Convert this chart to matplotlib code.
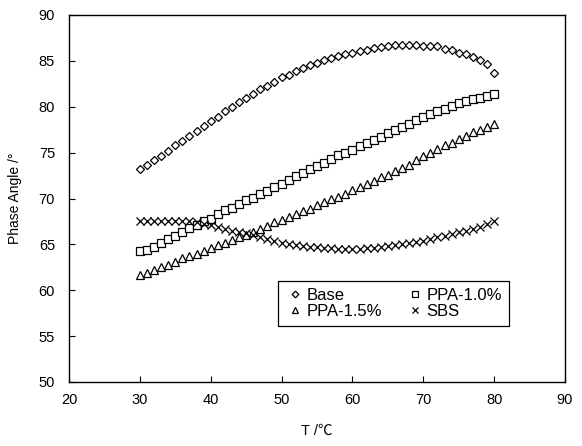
import matplotlib
matplotlib.use("Agg")
import matplotlib.pyplot as plt

plt.rcParams['font.family'] = ['Liberation Sans', 'DejaVu Sans']

temps = list(range(30, 81))

base = [73.2, 73.7, 74.2, 74.6, 75.2, 75.8, 76.3, 76.8, 77.4, 77.9,
        78.4, 78.9, 79.5, 80.0, 80.5, 80.9, 81.4, 81.9, 82.3, 82.7,
        83.2, 83.5, 83.9, 84.2, 84.5, 84.8, 85.1, 85.3, 85.5, 85.7,
        85.9, 86.1, 86.2, 86.4, 86.5, 86.6, 86.7, 86.7, 86.7, 86.7,
        86.6, 86.6, 86.6, 86.3, 86.2, 85.9, 85.7, 85.4, 85.1, 84.7,
        83.7]

ppa10 = [64.3, 64.4, 64.75, 65.1, 65.6, 65.9, 66.4, 66.75, 67.1, 67.5,
         67.8, 68.3, 68.7, 69.0, 69.4, 69.8, 70.1, 70.5, 70.85, 71.2,
         71.6, 72.0, 72.4, 72.8, 73.2, 73.5, 73.9, 74.3, 74.7, 75.0,
         75.3, 75.7, 76.0, 76.4, 76.7, 77.1, 77.5, 77.8, 78.1, 78.6,
         78.9, 79.2, 79.5, 79.8, 80.1, 80.4, 80.6, 80.8, 81.0, 81.2,
         81.35]

ppa15 = [61.7, 61.9, 62.2, 62.5, 62.8, 63.1, 63.5, 63.7, 64.0, 64.3,
         64.6, 64.9, 65.2, 65.5, 65.8, 66.0, 66.4, 66.7, 67.0, 67.4,
         67.7, 68.0, 68.3, 68.6, 68.9, 69.3, 69.6, 69.9, 70.2, 70.5,
         70.9, 71.2, 71.6, 71.9, 72.3, 72.6, 73.0, 73.3, 73.7, 74.2,
         74.6, 75.0, 75.4, 75.8, 76.1, 76.5, 76.8, 77.2, 77.5, 77.8,
         78.1]

sbs = [67.6, 67.6, 67.6, 67.6, 67.6, 67.5, 67.5, 67.5, 67.4, 67.2,
       67.1, 66.9, 66.7, 66.5, 66.3, 66.2, 66.0, 65.8, 65.6, 65.4,
       65.2, 65.0, 64.9, 64.8, 64.7, 64.7, 64.6, 64.6, 64.5, 64.5,
       64.5, 64.5, 64.6, 64.6, 64.7, 64.8, 64.9, 65.0, 65.1, 65.3,
       65.4, 65.6, 65.8, 65.9, 66.1, 66.3, 66.5, 66.7, 66.9, 67.2,
       67.5]

series_names = ['Base', 'PPA-1.0%', 'PPA-1.5%', 'SBS']
x_ticks = [20, 30, 40, 50, 60, 70, 80, 90]
y_ticks = [50, 55, 60, 65, 70, 75, 80, 85, 90]

fig = plt.figure(figsize=(5.82, 4.46), dpi=100)
ax = fig.add_axes([69/582, 64/446, 496/582, 367/446])

h_base, = ax.plot(temps, base, linestyle='none', marker='D', markersize=4.5,
                  markerfacecolor='white', markeredgecolor='black',
                  markeredgewidth=0.9, label=series_names[0])
h_p10, = ax.plot(temps, ppa10, linestyle='none', marker='s', markersize=5.5,
                 markerfacecolor='white', markeredgecolor='black',
                 markeredgewidth=0.9, label=series_names[1])
h_p15, = ax.plot(temps, ppa15, linestyle='none', marker='^', markersize=6.0,
                 markerfacecolor='white', markeredgecolor='black',
                 markeredgewidth=0.9, label=series_names[2])
h_sbs, = ax.plot(temps, sbs, linestyle='none', marker='x', markersize=5.5,
                 color='black', markeredgewidth=0.9, label=series_names[3])

ax.set_xlim(20, 90)
ax.set_ylim(50, 90)
ax.set_xticks(x_ticks)
ax.set_yticks(y_ticks)
ax.tick_params(direction='in', length=4, width=0.8, labelsize=10.5,
               colors='black')
ax.tick_params(axis='y', pad=10)
ax.tick_params(axis='x', pad=8)
for s in ax.spines.values():
    s.set_linewidth(1.0)
    s.set_color('black')

ax.set_xlabel('T /℃', fontsize=10.5,
              family=['Liberation Sans', 'Noto Sans CJK SC', 'DejaVu Sans'],
              labelpad=12)
ax.set_ylabel('Phase Angle /°', fontsize=10, labelpad=12)

leg = ax.legend([h_base, h_p15, h_p10, h_sbs],
                [series_names[0], series_names[2], series_names[1], series_names[3]],
                loc='upper left', bbox_to_anchor=(0.421, 0.275),
                borderaxespad=0, ncol=2, fontsize=12, frameon=True,
                fancybox=False, edgecolor='black', framealpha=1,
                markerscale=0.75, handlelength=1.3, handletextpad=0.05,
                columnspacing=1.3, borderpad=0.4, labelspacing=0.08)
leg.get_frame().set_linewidth(0.9)

fig.savefig('out.png', dpi=100)
